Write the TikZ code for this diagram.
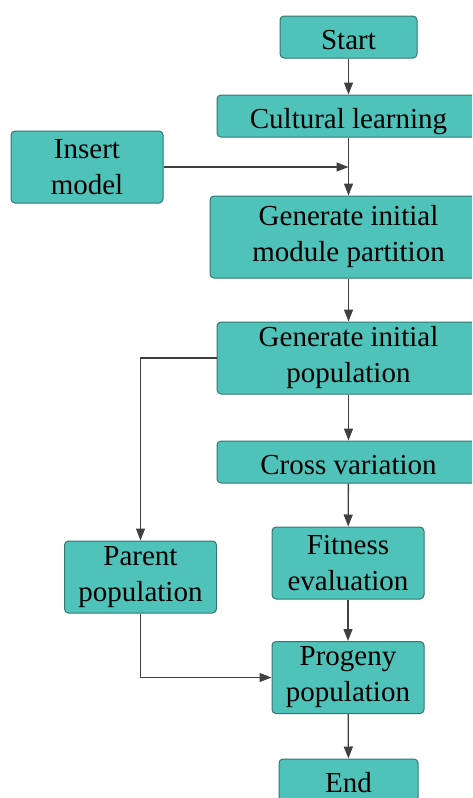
\documentclass[tikz,border=0pt]{standalone}
\usepackage{fontspec}
\newfontfamily\boxfont{Liberation Serif}
\usetikzlibrary{arrows.meta, calc}
\definecolor{boxfill}{RGB}{79,195,185}
\definecolor{boxline}{RGB}{52,118,112}
\definecolor{arrowgray}{RGB}{64,64,64}

\begin{document}
\begin{tikzpicture}[x=1pt, y=-1pt,
	block/.style={draw=boxline, line width=1pt, fill=boxfill, rounded corners=4pt,
		inner sep=0pt, align=center, font=\boxfont\fontsize{29}{36}\selectfont},
	oneline/.style={block, text height=25pt, text depth=0pt, minimum height=42pt},
	flow/.style={-{Triangle[length=12pt, width=9pt]}, draw=arrowgray, line width=1.3pt}]
	\useasboundingbox (0,0) rectangle (472,798);
	\clip (0,0) rectangle (472,798);

	\node [oneline, minimum width=137pt] (NStart) at (348.5,37) {Start};
	\node [oneline, minimum width=263pt] (NCult) at (348.5,116) {Cultural learning};
	\node [block, minimum width=152pt, minimum height=72pt] (NInsert) at (87,167) {Insert\\model};
	\node [block, minimum width=277pt, minimum height=82pt] (NPart) at (348.5,237) {Generate initial\\module partition};
	\node [block, minimum width=263pt, minimum height=72pt] (NPop) at (348.5,358) {Generate initial\\population};
	\node [oneline, minimum width=263pt] (NCross) at (348.5,462) {Cross variation};
	\node [block, minimum width=152pt, minimum height=72pt] (NFit) at (348,563) {Fitness\\evaluation};
	\node [block, minimum width=152pt, minimum height=72pt] (NParent) at (140.5,577) {Parent\\population};
	\node [block, minimum width=152pt, minimum height=72pt] (NProg) at (348,677.5) {Progeny\\population};
	\node [oneline, minimum width=139pt] (NEnd) at (348.5,780) {End};

	\draw [flow] (NStart) -- (NCult);
	\draw [flow] (NCult) -- (NPart);
	\coordinate (J1) at (NCult.south |- NInsert.east);
	\draw [flow] (NInsert.east) -- (J1);
	\draw [flow] (NPart) -- (NPop);
	\draw [flow] (NPop.west) -| (NParent.north);
	\draw [flow] (NPop) -- (NCross);
	\draw [flow] (NCross) -- (NFit);
	\draw [flow] (NFit) -- (NProg);
	\draw [flow] (NParent.south) |- (NProg.west);
	\draw [flow] (NProg) -- (NEnd);

\end{tikzpicture}
\end{document}
